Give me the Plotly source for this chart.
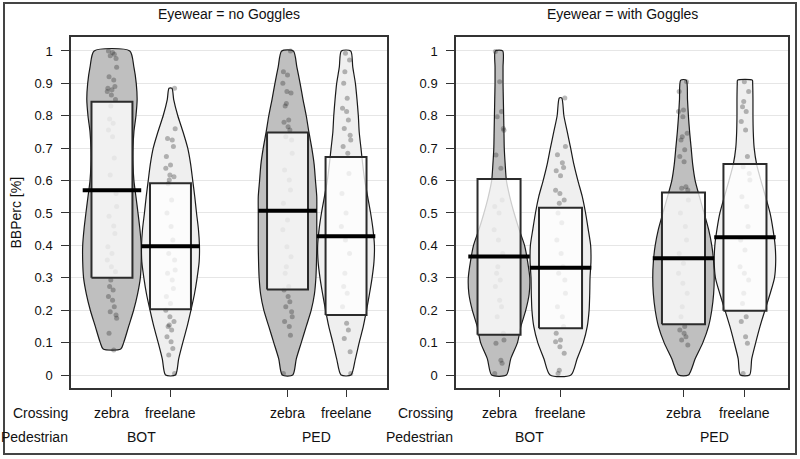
import plotly.graph_objects as go

# ---------------- data ----------------
PANEL_TITLES = ["Eyewear = no Goggles", "Eyewear = with Goggles"]
CROSSING = ["zebra", "freelane", "zebra", "freelane"]
PEDESTRIAN = ["BOT", "PED"]
X_POS = [1, 2, 4, 5]
Y_TICKS = [0, 0.1, 0.2, 0.3, 0.4, 0.5, 0.6, 0.7, 0.8, 0.9, 1]
Y_TICK_TEXT = ["0", "0.1", "0.2", "0.3", "0.4", "0.5", "0.6", "0.7", "0.8", "0.9", "1"]

# means and inference-band (box) limits, per panel, in order BOT-zebra, BOT-freelane, PED-zebra, PED-freelane
means_nog = [0.570, 0.397, 0.507, 0.428]
means_wg = [0.366, 0.331, 0.360, 0.425]
box_lo_nog = [0.300, 0.203, 0.264, 0.185]
box_hi_nog = [0.843, 0.592, 0.748, 0.673]
box_lo_wg = [0.124, 0.144, 0.157, 0.198]
box_hi_wg = [0.605, 0.516, 0.563, 0.651]

pts_nog_bot_zebra = [1.0, 0.995, 0.99, 0.985, 0.977, 0.95, 0.92, 0.91, 0.89, 0.885, 0.88, 0.875, 0.864, 0.85,
                     0.83, 0.79, 0.777, 0.756, 0.735, 0.67, 0.617, 0.56, 0.52, 0.49, 0.46, 0.437, 0.396, 0.375,
                     0.355, 0.334, 0.319, 0.293, 0.273, 0.262, 0.242, 0.231, 0.211, 0.195, 0.185, 0.175, 0.129, 0.077]
pts_nog_bot_free = [0.885, 0.76, 0.73, 0.725, 0.705, 0.674, 0.648, 0.638, 0.617, 0.612, 0.602, 0.59, 0.54, 0.5,
                    0.458, 0.417, 0.375, 0.355, 0.324, 0.314, 0.293, 0.267, 0.242, 0.221, 0.2, 0.18, 0.165, 0.154,
                    0.15, 0.139, 0.118, 0.103, 0.082, 0.062, 0.005]
pts_nog_ped_zebra = [1.0, 0.936, 0.926, 0.9, 0.875, 0.87, 0.838, 0.83, 0.787, 0.78, 0.766, 0.756, 0.735, 0.725,
                     0.684, 0.633, 0.602, 0.571, 0.53, 0.478, 0.448, 0.396, 0.365, 0.334, 0.314, 0.273, 0.262,
                     0.242, 0.226, 0.211, 0.195, 0.18, 0.165, 0.15, 0.123, 0.005]
pts_nog_ped_free = [0.993, 0.972, 0.936, 0.9, 0.854, 0.823, 0.813, 0.787, 0.761, 0.74, 0.725, 0.705, 0.684, 0.622,
                    0.56, 0.5, 0.458, 0.417, 0.375, 0.314, 0.273, 0.252, 0.211, 0.16, 0.139, 0.113, 0.072, 0.005]
pts_wg_bot_zebra = [0.998, 0.905, 0.813, 0.797, 0.761, 0.755, 0.679, 0.638, 0.54, 0.52, 0.5, 0.448, 0.417, 0.375,
                    0.334, 0.314, 0.293, 0.273, 0.231, 0.211, 0.18, 0.129, 0.108, 0.098, 0.046, 0.036, 0.005]
pts_wg_bot_free = [0.855, 0.705, 0.68, 0.655, 0.64, 0.63, 0.615, 0.57, 0.56, 0.54, 0.53, 0.5, 0.47, 0.417, 0.375,
                   0.334, 0.314, 0.293, 0.252, 0.211, 0.18, 0.15, 0.129, 0.108, 0.103, 0.087, 0.067, 0.015, 0.005]
pts_wg_ped_zebra = [0.905, 0.875, 0.818, 0.813, 0.797, 0.746, 0.735, 0.725, 0.695, 0.674, 0.658, 0.581, 0.576,
                    0.571, 0.54, 0.5, 0.458, 0.417, 0.375, 0.345, 0.314, 0.283, 0.252, 0.211, 0.18, 0.15, 0.139,
                    0.129, 0.118, 0.108, 0.093]
pts_wg_ped_free = [0.905, 0.875, 0.844, 0.828, 0.813, 0.782, 0.756, 0.674, 0.643, 0.622, 0.602, 0.55, 0.52, 0.458,
                   0.417, 0.386, 0.334, 0.314, 0.293, 0.252, 0.221, 0.18, 0.165, 0.118, 0.098, 0.005]

# density outlines (relative width 0..1) at the given y levels
dens_nog_bot_zebra_y = [0.08, 0.1, 0.15, 0.2, 0.25, 0.3, 0.35, 0.4, 0.45, 0.5, 0.55, 0.6, 0.65, 0.7, 0.75, 0.8,
                        0.85, 0.9, 0.95, 1.0]
dens_nog_bot_zebra_w = [0.30, 0.40, 0.57, 0.74, 0.875, 0.97, 1.0, 1.0, 0.955, 0.89, 0.82, 0.75, 0.72, 0.72, 0.75,
                        0.82, 0.86, 0.83, 0.75, 0.61]
dens_nog_bot_free_y = [0, 0.05, 0.1, 0.15, 0.2, 0.25, 0.3, 0.35, 0.4, 0.45, 0.5, 0.55, 0.6, 0.65, 0.7, 0.75, 0.8,
                       0.85, 0.885]
dens_nog_bot_free_w = [0.17, 0.28, 0.42, 0.57, 0.70, 0.82, 0.91, 0.98, 0.99, 0.955, 0.89, 0.83, 0.76, 0.69, 0.59,
                       0.43, 0.25, 0.11, 0.05]
dens_nog_ped_zebra_y = [0, 0.05, 0.1, 0.15, 0.2, 0.25, 0.3, 0.35, 0.4, 0.45, 0.5, 0.55, 0.6, 0.65, 0.7, 0.75, 0.8,
                        0.85, 0.9, 0.95, 1.0]
dens_nog_ped_zebra_w = [0.18, 0.30, 0.47, 0.64, 0.81, 0.92, 0.97, 0.99, 1.0, 1.0, 1.0, 1.0, 0.955, 0.91, 0.83,
                        0.73, 0.64, 0.53, 0.43, 0.32, 0.20]
dens_nog_ped_free_y = [0, 0.05, 0.1, 0.15, 0.2, 0.25, 0.3, 0.35, 0.4, 0.45, 0.5, 0.55, 0.6, 0.65, 0.7, 0.75, 0.8,
                       0.85, 0.9, 0.95, 1.0]
dens_nog_ped_free_w = [0.17, 0.32, 0.45, 0.59, 0.70, 0.80, 0.89, 0.955, 0.97, 0.92, 0.84, 0.74, 0.64, 0.57, 0.51,
                       0.45, 0.42, 0.375, 0.32, 0.23, 0.16]
dens_wg_bot_zebra_y = [0, 0.05, 0.1, 0.15, 0.2, 0.25, 0.3, 0.35, 0.4, 0.45, 0.5, 0.55, 0.6, 0.65, 0.7, 0.75, 0.8,
                       0.85, 0.9, 0.95, 1.0]
dens_wg_bot_zebra_w = [0.24, 0.38, 0.60, 0.71, 0.87, 0.98, 1.0, 0.93, 0.83, 0.65, 0.49, 0.35, 0.24, 0.20, 0.17,
                       0.16, 0.15, 0.14, 0.13, 0.13, 0.12]
dens_wg_bot_free_y = [0, 0.05, 0.1, 0.15, 0.2, 0.25, 0.3, 0.35, 0.4, 0.45, 0.5, 0.55, 0.6, 0.65, 0.7, 0.75, 0.8,
                      0.855]
dens_wg_bot_free_w = [0.34, 0.54, 0.74, 0.87, 0.93, 0.95, 0.96, 0.99, 0.98, 0.90, 0.815, 0.71, 0.565, 0.435, 0.33,
                      0.22, 0.11, 0.04]
dens_wg_ped_zebra_y = [0, 0.05, 0.1, 0.15, 0.2, 0.25, 0.3, 0.35, 0.4, 0.45, 0.5, 0.55, 0.6, 0.65, 0.7, 0.75, 0.8,
                       0.85, 0.91]
dens_wg_ped_zebra_w = [0.16, 0.38, 0.63, 0.815, 0.92, 0.98, 1.0, 0.98, 0.92, 0.815, 0.67, 0.52, 0.38, 0.30, 0.25,
                       0.20, 0.16, 0.13, 0.09]
dens_wg_ped_free_y = [0, 0.05, 0.1, 0.15, 0.2, 0.25, 0.3, 0.35, 0.4, 0.45, 0.5, 0.55, 0.6, 0.65, 0.7, 0.75, 0.8,
                      0.85, 0.9, 0.91]
dens_wg_ped_free_w = [0.15, 0.22, 0.35, 0.49, 0.65, 0.815, 0.96, 1.0, 0.98, 0.91, 0.815, 0.67, 0.52, 0.38, 0.30,
                      0.27, 0.26, 0.26, 0.25, 0.24]

# ---------------- styling ----------------
W, H = 800, 459
FONT = "Liberation Sans, Arial, sans-serif"
VIOLIN_FILL = ["#bfbfbf", "#efefef", "#bfbfbf", "#efefef"]
BEAN_HALF = 0.5
BOX_HALF = 0.35
MEAN_HALF = 0.5
JIT = [-0.06, 0.03, -0.02, 0.07, -0.08, 0.01, 0.05, -0.04, 0.08, -0.01, 0.04, -0.07, 0.02, -0.05, 0.06, -0.03, 0.0]

plot_top, plot_bot = 37, 388
doms_x = [[71 / W, 387 / W], [456 / W, 788 / W]]
dom_y = [1 - plot_bot / H, 1 - plot_top / H]

panels = [
    dict(means=means_nog, lo=box_lo_nog, hi=box_hi_nog,
         pts=[pts_nog_bot_zebra, pts_nog_bot_free, pts_nog_ped_zebra, pts_nog_ped_free],
         dens=[(dens_nog_bot_zebra_y, dens_nog_bot_zebra_w), (dens_nog_bot_free_y, dens_nog_bot_free_w),
               (dens_nog_ped_zebra_y, dens_nog_ped_zebra_w), (dens_nog_ped_free_y, dens_nog_ped_free_w)]),
    dict(means=means_wg, lo=box_lo_wg, hi=box_hi_wg,
         pts=[pts_wg_bot_zebra, pts_wg_bot_free, pts_wg_ped_zebra, pts_wg_ped_free],
         dens=[(dens_wg_bot_zebra_y, dens_wg_bot_zebra_w), (dens_wg_bot_free_y, dens_wg_bot_free_w),
               (dens_wg_ped_zebra_y, dens_wg_ped_zebra_w), (dens_wg_ped_free_y, dens_wg_ped_free_w)]),
]

fig = go.Figure()

for p, panel in enumerate(panels):
    xa = "x" if p == 0 else "x2"
    ya = "y" if p == 0 else "y2"
    # violins
    for g in range(4):
        ys, ws = panel["dens"][g]
        c = X_POS[g]
        xs = [c + BEAN_HALF * w for w in ws] + [c - BEAN_HALF * w for w in ws[::-1]]
        yy = list(ys) + list(ys[::-1])
        fig.add_trace(go.Scatter(x=xs + [xs[0]], y=yy + [yy[0]], xaxis=xa, yaxis=ya, mode="lines",
                                 fill="toself", fillcolor=VIOLIN_FILL[g],
                                 line=dict(color="#1a1a1a", width=1.2, shape="spline", smoothing=0.7),
                                 hoverinfo="skip", showlegend=False))
    # points
    for g in range(4):
        vals = panel["pts"][g]
        xs = [X_POS[g] + JIT[(i * 5 + g * 3) % len(JIT)] for i in range(len(vals))]
        fig.add_trace(go.Scatter(x=xs, y=vals, xaxis=xa, yaxis=ya, mode="markers",
                                 marker=dict(size=5, color="rgba(40,40,40,0.32)", line=dict(width=0)),
                                 hoverinfo="skip", showlegend=False))
    # inference boxes
    for g in range(4):
        c = X_POS[g]
        lo, hi = panel["lo"][g], panel["hi"][g]
        fig.add_trace(go.Scatter(x=[c - BOX_HALF, c + BOX_HALF, c + BOX_HALF, c - BOX_HALF, c - BOX_HALF],
                                 y=[lo, lo, hi, hi, lo], xaxis=xa, yaxis=ya, mode="lines", fill="toself",
                                 fillcolor="rgba(255,255,255,0.78)", line=dict(color="#2b2b2b", width=2),
                                 hoverinfo="skip", showlegend=False))
    # mean lines
    for g in range(4):
        c = X_POS[g]
        m = panel["means"][g]
        fig.add_trace(go.Scatter(x=[c - MEAN_HALF, c + MEAN_HALF], y=[m, m], xaxis=xa, yaxis=ya, mode="lines",
                                 line=dict(color="black", width=4), hoverinfo="skip", showlegend=False))

axis_common_x = dict(range=[0.3, 5.7], showgrid=False, zeroline=False, showline=True, mirror=True,
                     linecolor="#333333", linewidth=1.5, ticks="outside", ticklen=7, tickcolor="#333333",
                     tickvals=X_POS, showticklabels=False, fixedrange=True)
axis_common_y = dict(range=[-0.040, 1.043], showgrid=True, gridcolor="#e6e6e6", gridwidth=1, zeroline=False,
                     showline=True, mirror=True, linecolor="#333333", linewidth=1.5, ticks="outside",
                     ticklen=8, tickcolor="#333333", tickvals=Y_TICKS, ticktext=Y_TICK_TEXT,
                     tickfont=dict(family=FONT, size=13, color="#111111"), ticklabelstandoff=6,
                     domain=dom_y, fixedrange=True)

fig.update_layout(
    width=W, height=H, autosize=False,
    margin=dict(l=0, r=0, t=0, b=0),
    paper_bgcolor="white", plot_bgcolor="white",
    font=dict(family=FONT, size=13, color="#111111"),
    xaxis=dict(axis_common_x, domain=doms_x[0], anchor="y"),
    xaxis2=dict(axis_common_x, domain=doms_x[1], anchor="y2"),
    yaxis=dict(axis_common_y, anchor="x"),
    yaxis2=dict(axis_common_y, anchor="x2"),
    showlegend=False,
)

ann = []
for p in range(2):
    xref = "x" if p == 0 else "x2"
    cx = (doms_x[p][0] + doms_x[p][1]) / 2
    ann.append(dict(text=PANEL_TITLES[p], x=cx, y=1 - 14 / H, xref="paper", yref="paper",
                    showarrow=False, xanchor="center", yanchor="middle", font=dict(size=14)))
    ann.append(dict(text="Crossing", x=doms_x[p][0] - 1 / W, y=1 - 413 / H, xref="paper", yref="paper",
                    showarrow=False, xanchor="right", yanchor="middle", font=dict(size=14)))
    ann.append(dict(text="Pedestrian", x=doms_x[p][0] - 1 / W, y=1 - 437 / H, xref="paper", yref="paper",
                    showarrow=False, xanchor="right", yanchor="middle", font=dict(size=14)))
    for g in range(4):
        ann.append(dict(text=CROSSING[g], x=X_POS[g], y=1 - 413 / H, xref=xref, yref="paper",
                        showarrow=False, xanchor="center", yanchor="middle", font=dict(size=14)))
    for k in range(2):
        ann.append(dict(text=PEDESTRIAN[k], x=(X_POS[2 * k] + X_POS[2 * k + 1]) / 2, y=1 - 437 / H,
                        xref=xref, yref="paper", showarrow=False, xanchor="center", yanchor="middle",
                        font=dict(size=14)))
ann.append(dict(text="BBPerc [%]", x=15 / W, y=(dom_y[0] + dom_y[1]) / 2, xref="paper", yref="paper",
                showarrow=False, textangle=-90, xanchor="center", yanchor="middle", font=dict(size=14)))
fig.update_layout(annotations=ann)

fig.add_shape(type="rect", xref="paper", yref="paper", x0=4 / W, x1=796 / W, y0=1 - 454 / H, y1=1 - 3 / H,
              line=dict(color="#444444", width=2), fillcolor="rgba(0,0,0,0)", layer="above")

fig.write_html("out.html", config={"displayModeBar": False},
               post_script="document.body.style.margin='0';document.body.style.padding='0';")
